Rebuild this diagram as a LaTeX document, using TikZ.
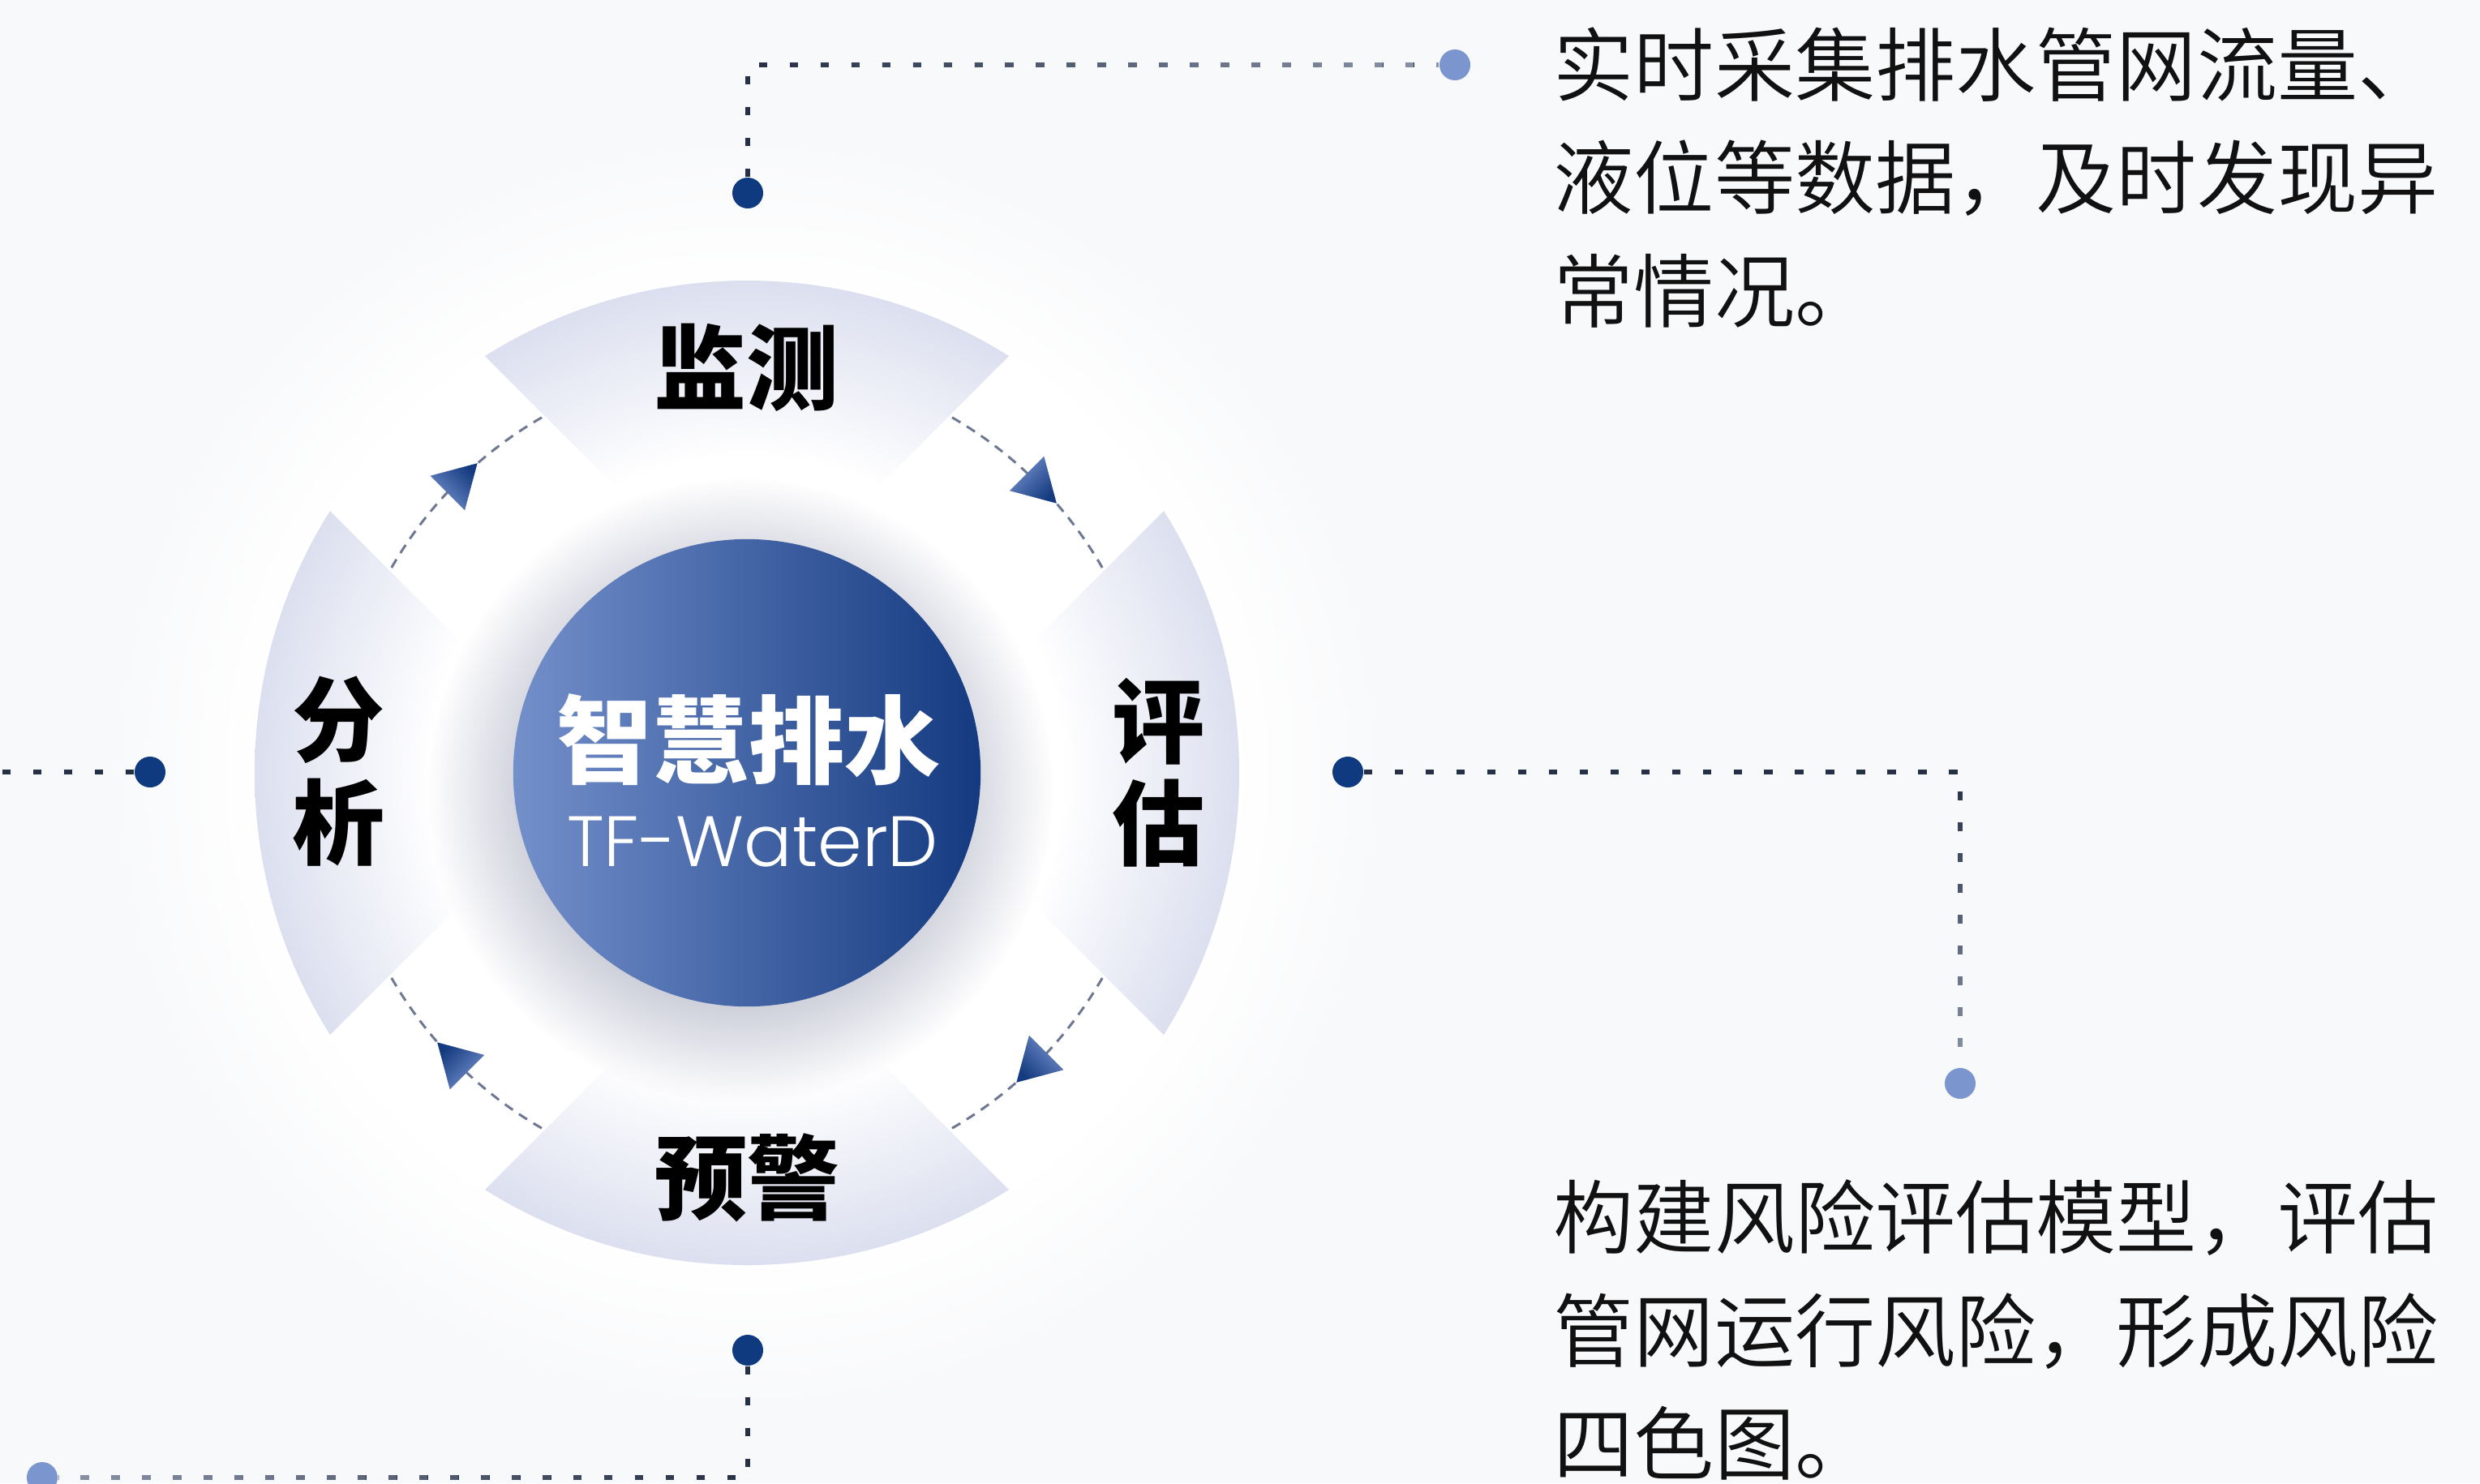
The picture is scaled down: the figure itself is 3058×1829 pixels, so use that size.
\documentclass[tikz,border=0pt]{standalone}
\usepackage{fontspec}
\newfontfamily\cjk{Noto Sans CJK SC}
\newfontfamily\cjkl{Noto Sans CJK SC DemiLight}
\newfontfamily\pop{Poppins Light}
\usetikzlibrary{fadings,calc}
\definecolor{bgc}{HTML}{F8F9FB}
\definecolor{lav}{HTML}{DCDFEF}
\definecolor{navy}{HTML}{0F3A80}
\definecolor{lblue}{HTML}{7B95CF}
\definecolor{cirL}{HTML}{7490CB}
\definecolor{cirR}{HTML}{143A80}
\definecolor{dotdark}{HTML}{253045}
\definecolor{dotlight}{HTML}{8C94A8}
\definecolor{arcdash}{HTML}{6E7893}
\definecolor{txt}{HTML}{111111}
\definecolor{shad}{HTML}{CDCFDA}
\pgfdeclareradialshading{ringshade}{\pgfpoint{0bp}{0bp}}{color(0bp)=(white); color(16bp)=(white); color(25bp)=(lav); color(50bp)=(lav)}
\pgfdeclareradialshading{shfadeshade}{\pgfpoint{0bp}{0bp}}{color(0bp)=(white); color(17bp)=(white); color(25bp)=(black); color(50bp)=(black)}
\pgfdeclarefading{shfade}{\pgfuseshading{shfadeshade}}
\pgfdeclareradialshading{diskfadeshade}{\pgfpoint{0bp}{0bp}}{color(0bp)=(white); color(19bp)=(white); color(25bp)=(black); color(50bp)=(black)}
\pgfdeclarefading{diskfade}{\pgfuseshading{diskfadeshade}}
\tikzfading[name=fadeR, left color=transparent!100, right color=transparent!0]
\tikzfading[name=fadeL, left color=transparent!0, right color=transparent!100]
\tikzfading[name=fadeD, top color=transparent!100, bottom color=transparent!0]
\tikzset{
  darkdot/.style={circle, fill=navy, minimum size=0.38cm, inner sep=0pt},
  lightdot/.style={circle, fill=lblue, minimum size=0.38cm, inner sep=0pt},
  dotline/.style={line width=1.5pt, dash pattern=on 3pt off 7.8pt},
  ringdash/.style={arcdash, line width=0.85pt, dash pattern=on 3.4pt off 2.6pt},
  lbl/.style={font=\cjk\bfseries\fontsize{32.4pt}{35.9pt}\selectfont, text=black, inner sep=0pt, align=center},
  para/.style={font=\cjkl\fontsize{28.2pt}{39.7pt}\selectfont, text=txt, inner sep=0pt, align=left, anchor=west},
}
\begin{document}
\begin{tikzpicture}[x=0.01cm, y=-0.01cm]
\useasboundingbox (0,0) rectangle (3058,1829);
\fill[bgc] (0,0) rectangle (3058,1829);
\coordinate (C) at (921,953);
% soft white disk
\fill[white, path fading=diskfade] (C) circle (800);
% four ring sectors
\foreach \r in {0,90,180,270}{
  \begin{scope}[rotate around={\r:(C)}]
    \clip ($(C)+(0,-191)$) -- ++(-800,-800) -- ++(1600,0) -- cycle;
    \shade[shading=ringshade] (C) circle (607);
  \end{scope}
}
% dashed arcs with arrowheads
\foreach \p in {225,315,45,135}{
  \draw[ringdash] ($(C)+(\p-15:506)$) arc[start angle=\p-15, end angle=\p+15, radius=506];
  \pgfmathsetmacro{\sa}{-\p-180}
  \shade[top color=cirR, bottom color=cirL, shading angle=\sa]
    ($(C)+(\p:505)+(\p+90:35)$) -- ($(C)+(\p:505)+(\p+90:-17)+(\p:30)$) -- ($(C)+(\p:505)+(\p+90:-17)+(\p:-30)$) -- cycle;
}
% shadow of centre circle
\fill[shad, path fading=shfade] ($(C)+(-8,22)$) circle (385);
% centre circle
\node[circle, minimum size=5.76cm, inner sep=0pt, left color=cirL, right color=cirR] (core) at (C) {};
\node[font=\cjk\bfseries\fontsize{33.6pt}{40pt}\selectfont, text=white, inner sep=0pt] (title) at (923,912) {智慧排水};
\node[font=\pop\fontsize{25pt}{30pt}\selectfont, text=white, inner sep=0pt] (sub) at (928,1038) {TF-WaterD};
% labels
\node[lbl] (jc) at (920,453) {监测};
\node[lbl] (pg) at (1428,953) {评\\估};
\node[lbl] (yj) at (921,1452) {预警};
\node[lbl] (fx) at (417,951) {分\\析};
% dots
\node[darkdot] (t1) at (922,238) {};
\node[lightdot] (t2) at (1794,80) {};
\node[darkdot] (r1) at (1662,952) {};
\node[lightdot] (r2) at (2417,1336) {};
\node[darkdot] (b1) at (922,1665) {};
\node[lightdot] (b2) at (52,1822) {};
\node[darkdot] (l1) at (185,952) {};
\coordinate (lend) at (-20,952);
% dotted connectors
\draw[dotline, dotdark] (t1) |- (t2);
\draw[dotline, dotlight, path fading=fadeR] (t1) |- (t2);
\draw[dotline, dotdark] (r1) -| (r2);
\draw[dotline, dotlight, path fading=fadeD] (r1) -| (r2);
\draw[dotline, dotdark] (b1) |- (b2);
\draw[dotline, dotlight, path fading=fadeL] (b1) |- (b2);
\draw[dotline, dotdark] (l1) -- (lend);
% paragraphs
\node[para] (p1) at (1915,219) {实时采集排水管网流量、\\液位等数据，及时发现异\\常情况。};
\node[para] (p2) at (1915,1640) {构建风险评估模型，评估\\管网运行风险，形成风险\\四色图。};
\end{tikzpicture}
\end{document}
